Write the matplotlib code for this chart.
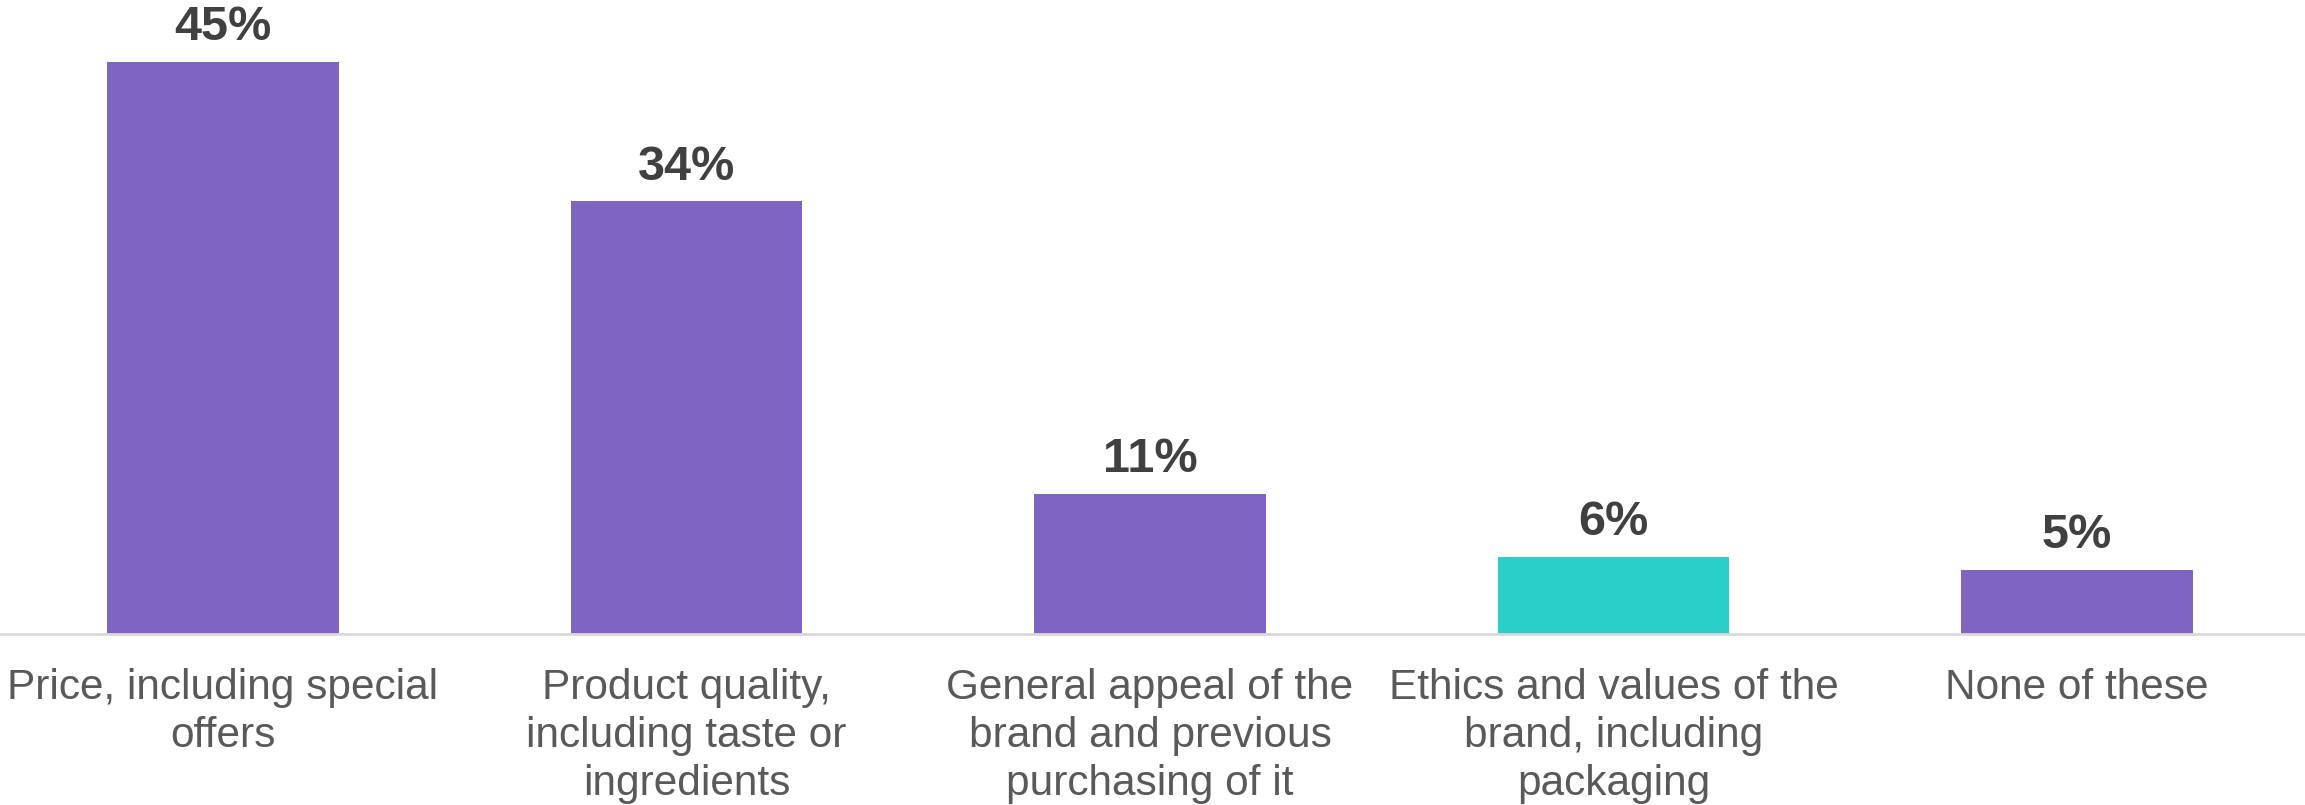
import matplotlib
matplotlib.use("Agg")
import matplotlib.pyplot as plt

categories = [
    "Price, including special\noffers",
    "Product quality,\nincluding taste or\ningredients",
    "General appeal of the\nbrand and previous\npurchasing of it",
    "Ethics and values of the\nbrand, including\npackaging",
    "None of these",
]
values = [45, 34, 11, 6, 5]
value_labels = ["45%", "34%", "11%", "6%", "5%"]
purple = "#7E65C1"
teal = "#2ACFCA"
colors = [purple, purple, purple, teal, purple]

plt.rcParams['font.family'] = ['Liberation Sans', 'DejaVu Sans']

W, H, DPI = 2305, 805, 100
fig = plt.figure(figsize=(W / DPI, H / DPI), dpi=DPI)
base_px = 633.5
ax = fig.add_axes([0, (H - base_px) / H, 1, base_px / H])
ax.set_xlim(-0.481, 4.492)
ppu = 12.71  # px per percent
ax.set_ylim(0, base_px / ppu)

x = list(range(len(categories)))
ax.bar(x, values, width=0.5, color=colors, zorder=2)
for xi, v, lab in zip(x, values, value_labels):
    ax.annotate(lab, (xi, v), xytext=(0, 8.5), textcoords="offset points",
                ha="center", va="bottom", fontsize=35, fontweight="bold",
                color="#404040")

for s in ["top", "right", "left"]:
    ax.spines[s].set_visible(False)
ax.spines["bottom"].set_color("#D9D9D9")
ax.spines["bottom"].set_linewidth(2)
ax.set_yticks([])
ax.set_xticks(x)
ax.set_xticklabels(categories, fontsize=30.5, color="#595959", linespacing=1.25,
                   va="top")
ax.tick_params(axis="x", length=0, pad=25)

fig.savefig("out.png", dpi=DPI)
